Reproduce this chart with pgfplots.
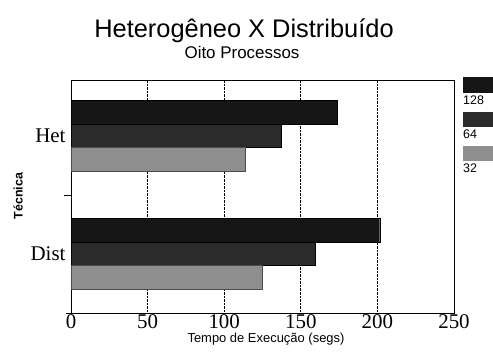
\documentclass[border=0pt]{standalone}
\usepackage{fontspec}
\setmainfont{Liberation Serif}
\newfontfamily\sans{Liberation Sans}
\usepackage{pgfplots}
\pgfplotsset{compat=1.18}
\definecolor{c128}{HTML}{161616}
\definecolor{c64}{HTML}{2B2B2B}
\definecolor{c32}{HTML}{8E8E8E}
\begin{document}
\begin{tikzpicture}[x=1bp,y=1bp]
\path[use as bounding box] (0,0) rectangle (493,353);
\begin{axis}[
  at={(71bp,40bp)}, anchor=south west,
  scale only axis, width=383bp, height=233bp,
  xbar, bar width=0.2,
  xmin=0, xmax=250, ymin=-0.5, ymax=1.47,
  xtick={0,50,100,150,200,250},
  ytick={0,1}, yticklabels={Dist,Het},
  ytick pos=left,
  extra y ticks={0.5}, extra y tick labels={},
  extra y tick style={major tick length=7bp, tick style={black}, tick align=outside},
  major tick length=0pt,
  xmajorgrids, grid style={black, densely dotted, line width=0.8pt},
  axis line style={black, line width=0.8pt},
  tick label style={font=\fontsize{21}{21}\selectfont},
  /pgf/number format/assume math mode=true,
  xticklabel style={yshift=2bp},
  yticklabel style={xshift=-2bp},
  clip=false,
]
\addplot[fill=c128, draw=black, bar shift=0.2] coordinates {(174,1) (201.5,0)};
\addplot[fill=c64, draw=black, bar shift=0] coordinates {(137,1) (159.7,0)};
\addplot[fill=c32, draw=black!70, bar shift=-0.2] coordinates {(113.5,1) (125,0)};
\end{axis}
\draw[line width=0.8pt] (66,40) -- (71,40);
% titles
\node[font=\sans\fontsize{25.5}{26}\selectfont, anchor=base] at (244,316) {Heterogêneo X Distribuído};
\node[font=\sans\fontsize{17}{18}\selectfont, anchor=base] at (242,295) {Oito Processos};
\node[font=\sans\fontsize{13}{14}\selectfont] at (266,14) {Tempo de Execução (segs)};
\node[font=\sans\bfseries\fontsize{12.5}{13}\selectfont, rotate=90] at (18,157) {Técnica};
% legend
\fill[c128] (463,353-93) rectangle (493,353-77);
\node[font=\sans\fontsize{12.5}{13}\selectfont, anchor=north west, inner sep=0pt] at (463,353-96) {128};
\fill[c64] (463,353-127) rectangle (493,353-112);
\node[font=\sans\fontsize{12.5}{13}\selectfont, anchor=north west, inner sep=0pt] at (463,353-130) {64};
\fill[c32] (463,353-161) rectangle (493,353-146);
\node[font=\sans\fontsize{12.5}{13}\selectfont, anchor=north west, inner sep=0pt] at (463,353-164) {32};
\end{tikzpicture}
\end{document}
